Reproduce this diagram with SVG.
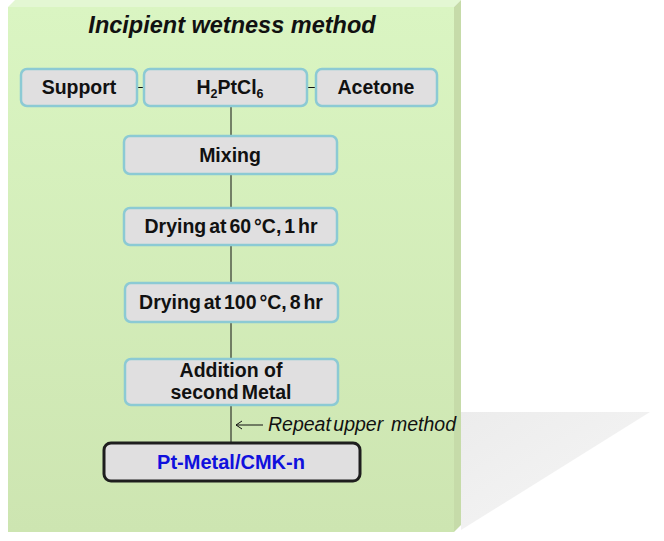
<svg xmlns="http://www.w3.org/2000/svg" width="664" height="541" viewBox="0 0 664 541">
<style>
.box{fill:#e0dfe0;stroke:#8ccad4;stroke-width:2.5}
.fin{fill:#e0dfe0;stroke:#1e1e1e;stroke-width:3}
.t{font-family:"Liberation Sans",Arial,sans-serif;font-weight:bold;font-size:19.5px;fill:#111;text-anchor:middle}
.ln{stroke:#111;stroke-width:1;fill:none}
</style>
<defs>
<linearGradient id="pg" x1="0" y1="0" x2="0" y2="1">
<stop offset="0" stop-color="#daf5c2"/>
<stop offset="1" stop-color="#cde5b1"/>
</linearGradient>
<linearGradient id="sg" x1="0" y1="0" x2="1" y2="1">
<stop offset="0" stop-color="#ececec"/>
<stop offset="1" stop-color="#f6f6f6"/>
</linearGradient>
</defs>
<g id="panel">
<polygon points="461,412 650,412 461,530" fill="url(#sg)"/>
<polygon points="8,7 15,0 461,0 454,7" fill="#e3f7d3"/>
<polygon points="454,7 461,0 461,525 454,532" fill="#c6dba9"/>
<rect x="8" y="7" width="446" height="525" fill="url(#pg)"/>
<text x="232" y="33" font-family="'Liberation Sans',Arial,sans-serif" font-weight="bold" font-style="italic" font-size="23.5" fill="#111" text-anchor="middle">Incipient wetness method</text>
</g>
<g id="connectors">
<line class="ln" x1="137" y1="87.5" x2="144" y2="87.5"/>
<line class="ln" x1="307" y1="87.5" x2="316" y2="87.5"/>
<line class="ln" x1="231" y1="106" x2="231" y2="443"/>
<path class="ln" d="M263,425 H236 M242,421 L236,425 L242,429"/>
<text x="268" y="431" font-family="'Liberation Sans',Arial,sans-serif" font-style="italic" font-size="19.5" fill="#111"><tspan word-spacing="-3">Repeat upper </tspan><tspan x="391">method</tspan></text>
</g>
<g id="support"><rect class="box" x="21" y="69" width="116" height="37" rx="6"/><text class="t" x="79" y="94">Support</text></g>
<g id="h2ptcl6"><rect class="box" x="144" y="69" width="163" height="37" rx="6"/><text class="t" x="230" y="94">H<tspan font-size="12.5" dy="4">2</tspan><tspan dy="-4">PtCl</tspan><tspan font-size="12.5" dy="4">6</tspan></text></g>
<g id="acetone"><rect class="box" x="316" y="69" width="121" height="37" rx="6"/><text class="t" x="376" y="94">Acetone</text></g>
<g id="mixing"><rect class="box" x="124" y="136" width="213" height="38" rx="6"/><text class="t" x="230" y="162">Mixing</text></g>
<g id="dry60"><rect class="box" x="124" y="208" width="213" height="37" rx="6"/><text class="t" x="231" y="233" word-spacing="-2.5">Drying at 60 °C, 1 hr</text></g>
<g id="dry100"><rect class="box" x="125" y="283" width="213" height="39" rx="6"/><text class="t" x="231" y="309" word-spacing="-2.5">Drying at 100 °C, 8 hr</text></g>
<g id="addition"><rect class="box" x="125" y="359" width="213" height="46" rx="6"/><text class="t" x="231" y="377">Addition of</text><text class="t" x="231" y="399" word-spacing="-2.5">second Metal</text></g>
<g id="final"><rect class="fin" x="104" y="443" width="256" height="38" rx="7"/><text class="t" x="231" y="469" style="fill:#1010dd;font-size:20px">Pt-Metal/CMK-n</text></g>
</svg>
